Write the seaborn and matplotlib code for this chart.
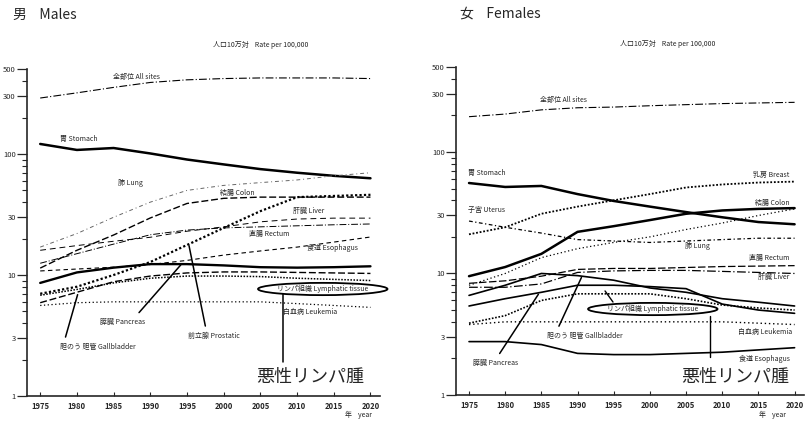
import matplotlib
matplotlib.use("Agg")
import matplotlib.pyplot as plt
from matplotlib.ticker import FixedLocator, NullFormatter
import seaborn as sns

# ==============================
# Data (rate per 100,000)
# ==============================
years = [1975, 1980, 1985, 1990, 1995, 2000, 2005, 2010, 2015, 2020]

# males
m_all = [290, 320, 355, 390, 410, 420, 425, 425, 425, 420]
m_stomach = [121, 108, 112, 101, 90, 82, 75, 70, 66, 63]
m_lung = [17, 22, 30, 40, 50, 55, 58, 61, 66, 70]
m_colon = [11.4, 16, 21.4, 29.6, 39, 43, 44, 44, 44, 44]
m_prostate = [7, 8, 10, 12.8, 17.7, 24.5, 33.7, 44, 45, 46]
m_liver = [16, 17.5, 19, 20.5, 23, 25, 27.5, 29, 29.5, 29.5]
m_rectum = [12.5, 15, 18, 21.5, 23.5, 24.5, 25, 25.5, 26, 26.4]
m_esophagus = [10.8, 11.2, 11.6, 12.2, 13.2, 14.6, 15.8, 17, 18.7, 20.6]
m_pancreas = [8.6, 10.5, 11.5, 12.3, 12.3, 12, 11.6, 11.5, 11.6, 11.8]
m_gallbladder = [5.9, 7.2, 8.8, 9.8, 10.4, 10.6, 10.6, 10.5, 10.4, 10.3]
m_lymph = [6.8, 7.6, 8.6, 9.4, 9.8, 9.8, 9.7, 9.4, 9.2, 9.0]
m_leukemia = [5.6, 5.9, 6.0, 6.0, 6.0, 6.0, 6.0, 5.8, 5.6, 5.4]

# females
f_all = [195, 205, 222, 231, 234, 240, 245, 250, 253, 256]
f_stomach = [55.5, 51.5, 52.5, 45, 39.5, 35.5, 32, 29, 26.5, 25.4]
f_breast = [21, 24, 31, 35.5, 40, 45, 51, 54, 56, 57]
f_uterus = [27, 24, 21.5, 19, 18.5, 18, 18.5, 19, 19.5, 19.5]
f_colon = [9.5, 11.3, 14.5, 22, 24.5, 27.5, 31, 33, 34, 34.5]
f_lung = [8, 10, 13.5, 16, 18, 20, 23, 26, 30, 34]
f_rectum = [8.3, 8.7, 9.5, 10.8, 11, 11, 11.2, 11.4, 11.5, 11.6]
f_liver = [7.7, 7.7, 8.2, 10.2, 10.5, 10.6, 10.6, 10.4, 10.2, 10.0]
f_gallbladder = [6.6, 8, 10, 9.6, 8.8, 7.6, 7.0, 6.2, 5.8, 5.4]
f_pancreas = [5.4, 6.2, 7.0, 8.0, 8.0, 7.8, 7.5, 5.6, 5.0, 4.7]
f_lymph = [3.9, 4.5, 6.0, 6.8, 6.8, 6.8, 6.2, 5.5, 5.2, 5.0]
f_leukemia = [3.8, 4.0, 4.0, 4.0, 4.0, 4.0, 4.0, 4.0, 3.9, 3.8]
f_esophagus = [2.75, 2.75, 2.6, 2.2, 2.15, 2.15, 2.2, 2.25, 2.35, 2.45]

# ==============================
# Line styles
# ==============================
dashdot = (0, (7, 2, 1, 2))
dense_dot = (0, (1, 1))
sparse_dot = (0, (1, 2))

male_lines = [
    (m_all, dict(lw=0.8, linestyle=dashdot)),
    (m_stomach, dict(lw=1.8, linestyle="-")),
    (m_lung, dict(lw=0.7, linestyle=(0, (4, 3, 1, 3)), color="0.4")),
    (m_colon, dict(lw=1.0, linestyle=(0, (5, 2)))),
    (m_prostate, dict(lw=1.6, linestyle=dense_dot)),
    (m_liver, dict(lw=0.7, linestyle=(0, (6, 4)))),
    (m_rectum, dict(lw=0.7, linestyle=dashdot)),
    (m_esophagus, dict(lw=0.8, linestyle=(0, (4, 3)))),
    (m_pancreas, dict(lw=1.7, linestyle="-")),
    (m_gallbladder, dict(lw=1.0, linestyle=(0, (5, 2)))),
    (m_lymph, dict(lw=1.1, linestyle=dense_dot)),
    (m_leukemia, dict(lw=0.9, linestyle=sparse_dot)),
]

female_lines = [
    (f_all, dict(lw=0.8, linestyle=dashdot)),
    (f_stomach, dict(lw=1.8, linestyle="-")),
    (f_breast, dict(lw=1.3, linestyle=dense_dot)),
    (f_uterus, dict(lw=0.9, linestyle=(0, (3, 2, 1, 2)))),
    (f_colon, dict(lw=1.8, linestyle="-")),
    (f_lung, dict(lw=0.9, linestyle=sparse_dot)),
    (f_rectum, dict(lw=0.9, linestyle=(0, (6, 2)))),
    (f_liver, dict(lw=0.9, linestyle=dashdot)),
    (f_gallbladder, dict(lw=1.2, linestyle="-")),
    (f_pancreas, dict(lw=1.2, linestyle="-")),
    (f_lymph, dict(lw=1.2, linestyle=dense_dot)),
    (f_leukemia, dict(lw=1.0, linestyle=sparse_dot)),
    (f_esophagus, dict(lw=1.2, linestyle="-")),
]

sns.set_style("ticks")
plt.rcParams['font.family'] = ['Noto Sans CJK JP', 'DejaVu Sans']

fig = plt.figure(figsize=(8.05, 4.25), dpi=100)
ax_m = fig.add_axes([27 / 805, 29 / 425, 353 / 805, 326.6 / 425])
ax_f = fig.add_axes([456 / 805, 30 / 425, 348 / 805, 328 / 425])


def setup(ax):
    ax.set_yscale("log")
    ax.set_xlim(1973.2, 2021.3)
    ax.set_ylim(1, 500)
    ax.yaxis.set_major_locator(FixedLocator([1, 3, 10, 30, 100, 300, 500]))
    ax.set_yticklabels(["1", "3", "10", "30", "100", "300", "500"])
    minors = [2, 4, 5, 6, 7, 8, 9, 20, 40, 50, 60, 70, 80, 90, 200, 400]
    ax.yaxis.set_minor_locator(FixedLocator(minors))
    ax.yaxis.set_minor_formatter(NullFormatter())
    ax.set_xticks(years)
    ax.set_xticklabels([str(y) for y in years], fontweight="bold")
    ax.tick_params(axis="y", which="major", length=7, width=0.9, labelsize=5.5, pad=1)
    ax.tick_params(axis="y", which="minor", length=3.5, width=0.8)
    ax.tick_params(axis="x", direction="in", length=3, width=0.8, labelsize=5.5, pad=4)
    for s in ["left", "bottom"]:
        ax.spines[s].set_linewidth(1.2)
    sns.despine(ax=ax)
    ax.set_xlabel("")
    ax.set_ylabel("")


def draw(ax, lines):
    for vals, kw in lines:
        kw = dict(kw)
        color = kw.pop("color", "black")
        sns.lineplot(x=years, y=vals, ax=ax, color=color, **kw)


for ax, lines in [(ax_m, male_lines), (ax_f, female_lines)]:
    ax.set_yscale("log")
    draw(ax, lines)
    setup(ax)

fs = 5
ell = dict(boxstyle="ellipse,pad=0.02", fc="white", ec="black", lw=1.3)
# ==============================
# Male labels
# ==============================
ax_m.text(1984.9, 433, "全部位 All sites", fontsize=fs, va="center")
ax_m.text(1977.7, 133, "胃 Stomach", fontsize=fs, va="center")
ax_m.text(1985.6, 57.5, "肺 Lung", fontsize=fs, va="center")
ax_m.text(1999.5, 47.6, "結腸 Colon", fontsize=fs, va="center")
ax_m.text(2009.5, 33.8, "肝臓 Liver", fontsize=fs, va="center")
ax_m.text(2003.4, 21.8, "直腸 Rectum", fontsize=fs, va="center")
ax_m.text(2011.4, 16.7, "食道 Esophagus", fontsize=fs, va="center")
ax_m.text(2008.1, 4.95, "白血病 Leukemia", fontsize=fs, va="center")
ax_m.text(2013.5, 7.66, "リンパ組織 Lymphatic tissue", fontsize=fs, va="center", ha="center",
          bbox=ell)
ax_m.annotate("膵臓 Pancreas", xy=(1994.4, 12.6), xytext=(1983.2, 4.09), fontsize=fs,
              va="center", arrowprops=dict(arrowstyle="-", lw=1.1, color="black",
                                           relpos=(0.75, 1.0)))
ax_m.annotate("前立腺 Prostatic", xy=(1995.2, 18.4), xytext=(1995.2, 3.13), fontsize=fs,
              va="center", arrowprops=dict(arrowstyle="-", lw=1.1, color="black",
                                           relpos=(0.35, 1.0)))
ax_m.annotate("胆のう 胆管 Gallbladder", xy=(1980.2, 7.24), xytext=(1977.7, 2.54), fontsize=fs,
              va="center", arrowprops=dict(arrowstyle="-", lw=1.1, color="black",
                                           relpos=(0.05, 1.0)))
ax_m.plot([2008.1, 2008.1], [6.9, 1.91], color="black", lw=1.1)
ax_m.text(2019.1, 1.44, "悪性リンパ腫", fontsize=13, ha="right", va="center")
ax_m.text(0.94, -0.058, "年    year", fontsize=5, ha="center", va="center",
          transform=ax_m.transAxes)

# ==============================
# Female labels
# ==============================
ax_f.text(1984.8, 268, "全部位 All sites", fontsize=fs, va="center")
ax_f.text(1974.9, 67.2, "胃 Stomach", fontsize=fs, va="center")
ax_f.text(1974.9, 33.3, "子宮 Uterus", fontsize=fs, va="center")
ax_f.text(2019.3, 64.7, "乳房 Breast", fontsize=fs, va="center", ha="right")
ax_f.text(2019.3, 38, "結腸 Colon", fontsize=fs, va="center", ha="right")
ax_f.text(2004.8, 16.8, "肺 Lung", fontsize=fs, va="center")
ax_f.text(2019.3, 13.4, "直腸 Rectum", fontsize=fs, va="center", ha="right")
ax_f.text(2019.3, 9.35, "肝臓 Liver", fontsize=fs, va="center", ha="right")
ax_f.text(2019.6, 3.3, "白血病 Leukemia", fontsize=fs, va="center", ha="right")
ax_f.text(2019.3, 1.98, "食道 Esophagus", fontsize=fs, va="center", ha="right")
ax_f.text(2000.4, 5.1, "リンパ組織 Lymphatic tissue", fontsize=fs, va="center", ha="center",
          bbox=ell)
ax_f.plot([1994.9, 1993.8], [5.82, 7.18], color="black", lw=1.0)
ax_f.annotate("膵臓 Pancreas", xy=(1984.8, 7.05), xytext=(1975.6, 1.83), fontsize=fs,
              va="center", arrowprops=dict(arrowstyle="-", lw=1.1, color="black",
                                           relpos=(0.5, 1.0)))
ax_f.annotate("胆のう 胆管 Gallbladder", xy=(1990.7, 9.72), xytext=(1985.8, 3.06), fontsize=fs,
              va="center", arrowprops=dict(arrowstyle="-", lw=1.1, color="black",
                                           relpos=(0.12, 1.0)))
ax_f.plot([2008.3, 2008.3], [4.5, 2.06], color="black", lw=1.0)
ax_f.text(2019.3, 1.41, "悪性リンパ腫", fontsize=13, ha="right", va="center")
ax_f.text(0.91, -0.06, "年    year", fontsize=5, ha="center", va="center",
          transform=ax_f.transAxes)

# ==============================
# Titles
# ==============================
fig.text(13 / 805, 1 - 15 / 425, "男    Males", fontsize=10, va="center")
fig.text(460 / 805, 1 - 14 / 425, "女    Females", fontsize=10, va="center")
fig.text(213 / 805, 1 - 45 / 425, "人口10万対    Rate per 100,000", fontsize=5, va="center")
fig.text(620 / 805, 1 - 44 / 425, "人口10万対    Rate per 100,000", fontsize=5, va="center")

fig.savefig("out.png", dpi=100, facecolor="white")
